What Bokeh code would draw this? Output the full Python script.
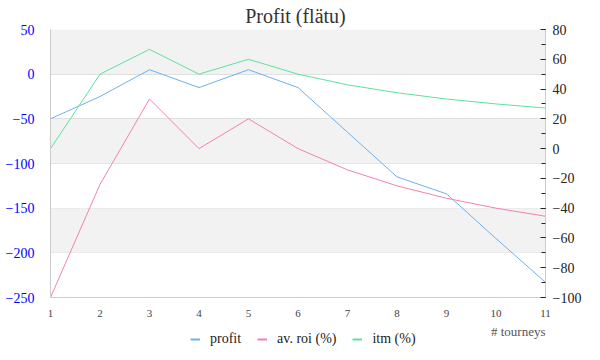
from bokeh.plotting import figure
from bokeh.layouts import column
from bokeh.models import Range1d, LinearAxis, Legend, LegendItem, BoxAnnotation, Label, FixedTicker
from bokeh.embed import file_html
from bokeh.resources import INLINE

tourneys = [1, 2, 3, 4, 5, 6, 7, 8, 9, 10, 11]
profit = [-50, -25, 5, -15, 5, -15, -65, -115, -134, -184, -233]
av_roi = [-100, -24, 33.33, 0, 20, 0, -14.29, -25, -33.33, -40, -45.45]
itm = [0, 50, 66.67, 50, 60, 50, 42.86, 37.5, 33.33, 30, 27.27]
left_ticks = [-250, -200, -150, -100, -50, 0, 50]
right_ticks = [-100, -80, -60, -40, -20, 0, 20, 40, 60, 80]
bands = [(0, 50), (-100, -50), (-200, -150)]
series_names = ["profit", "av. roi (%)", "itm (%)"]
colors = ["#6cb0f0", "#f280b6", "#5fe0a0"]

FONT = "Liberation Serif"
W = 584

p = figure(width=W, height=319, output_backend="svg", toolbar_location=None,
           x_range=Range1d(1, 11), y_range=Range1d(-250, 50),
           min_border_left=50, min_border_right=34, min_border_top=29, min_border_bottom=20)
p.extra_y_ranges = {"right": Range1d(-100, 80)}
p.outline_line_color = None
p.background_fill_color = "white"

p.title.text = "Profit  (flätu)"
p.title.align = "center"
p.title.text_font = FONT
p.title.text_font_size = "20px"
p.title.text_font_style = "normal"
p.title.text_color = "#333333"
p.title.standoff = 5
p.title.offset = 0

for b, t in bands:
    p.add_layout(BoxAnnotation(bottom=b, top=t, fill_color="#f2f2f2", fill_alpha=1.0, line_color=None, level="underlay"))

p.xgrid.visible = False
p.ygrid.ticker = FixedTicker(ticks=left_ticks)
p.ygrid.grid_line_color = "#d8d8d8"
p.ygrid.grid_line_width = 1

xa = p.xaxis[0]
xa.ticker = FixedTicker(ticks=tourneys)
xa.major_tick_line_color = None
xa.minor_tick_line_color = None
xa.axis_line_color = "#cccccc"
xa.major_label_text_font = FONT
xa.major_label_text_font_size = "11px"
xa.major_label_text_color = "#444444"
xa.major_label_standoff = 6

ya = p.yaxis[0]
ya.ticker = FixedTicker(ticks=left_ticks)
ya.major_tick_line_color = None
ya.minor_tick_line_color = None
ya.axis_line_color = "#cccccc"
ya.major_label_text_font = FONT
ya.major_label_text_font_size = "14px"
ya.major_label_text_color = "#0000ff"
ya.major_label_standoff = 10

ra = LinearAxis(y_range_name="right")
ra.ticker = FixedTicker(ticks=right_ticks, minor_ticks=list(range(-100, 81, 10)))
ra.axis_line_color = "#cccccc"
ra.major_tick_in = 5
ra.major_tick_out = 0
ra.minor_tick_in = 4
ra.minor_tick_out = 0
ra.major_tick_line_color = "#222222"
ra.minor_tick_line_color = "#222222"
ra.major_label_text_font = FONT
ra.major_label_text_font_size = "14px"
ra.major_label_text_color = "#222222"
ra.major_label_standoff = 7
p.add_layout(ra, "right")

p.line(tourneys, profit, line_color=colors[0], line_width=1)
p.line(tourneys, av_roi, line_color=colors[1], line_width=1, y_range_name="right")
p.line(tourneys, itm, line_color=colors[2], line_width=1, y_range_name="right")

# legend strip below the chart (shares the chart's horizontal scale)
LH = 28
lg = figure(width=W, height=LH, output_backend="svg", toolbar_location=None,
            x_range=Range1d(1, 11), y_range=Range1d(0, LH),
            min_border_left=50, min_border_right=34, min_border_top=0, min_border_bottom=0,
            outline_line_color=None)
lg.axis.visible = False
lg.grid.visible = False
items = []
for name, c in zip(series_names, colors):
    r = lg.line([float("nan")], [float("nan")], line_color=c, line_width=2)
    items.append(LegendItem(label=name, renderers=[r]))
legend = Legend(items=items, orientation="horizontal", location=(140, 0),
                background_fill_alpha=0, border_line_color=None,
                label_text_font=FONT, label_text_font_size="14px", label_text_color="#222222",
                glyph_width=10, glyph_height=14, label_height=14, spacing=16, label_standoff=10,
                padding=0, margin=0)
lg.add_layout(legend, "center")
lg.add_layout(Label(x=tourneys[-1], y=LH - 12, text="# tourneys", text_align="right", text_baseline="middle",
                    text_font=FONT, text_font_size="13px", text_color="#555555"))

open("out.html", "w").write(file_html(column(p, lg, spacing=0), INLINE))
